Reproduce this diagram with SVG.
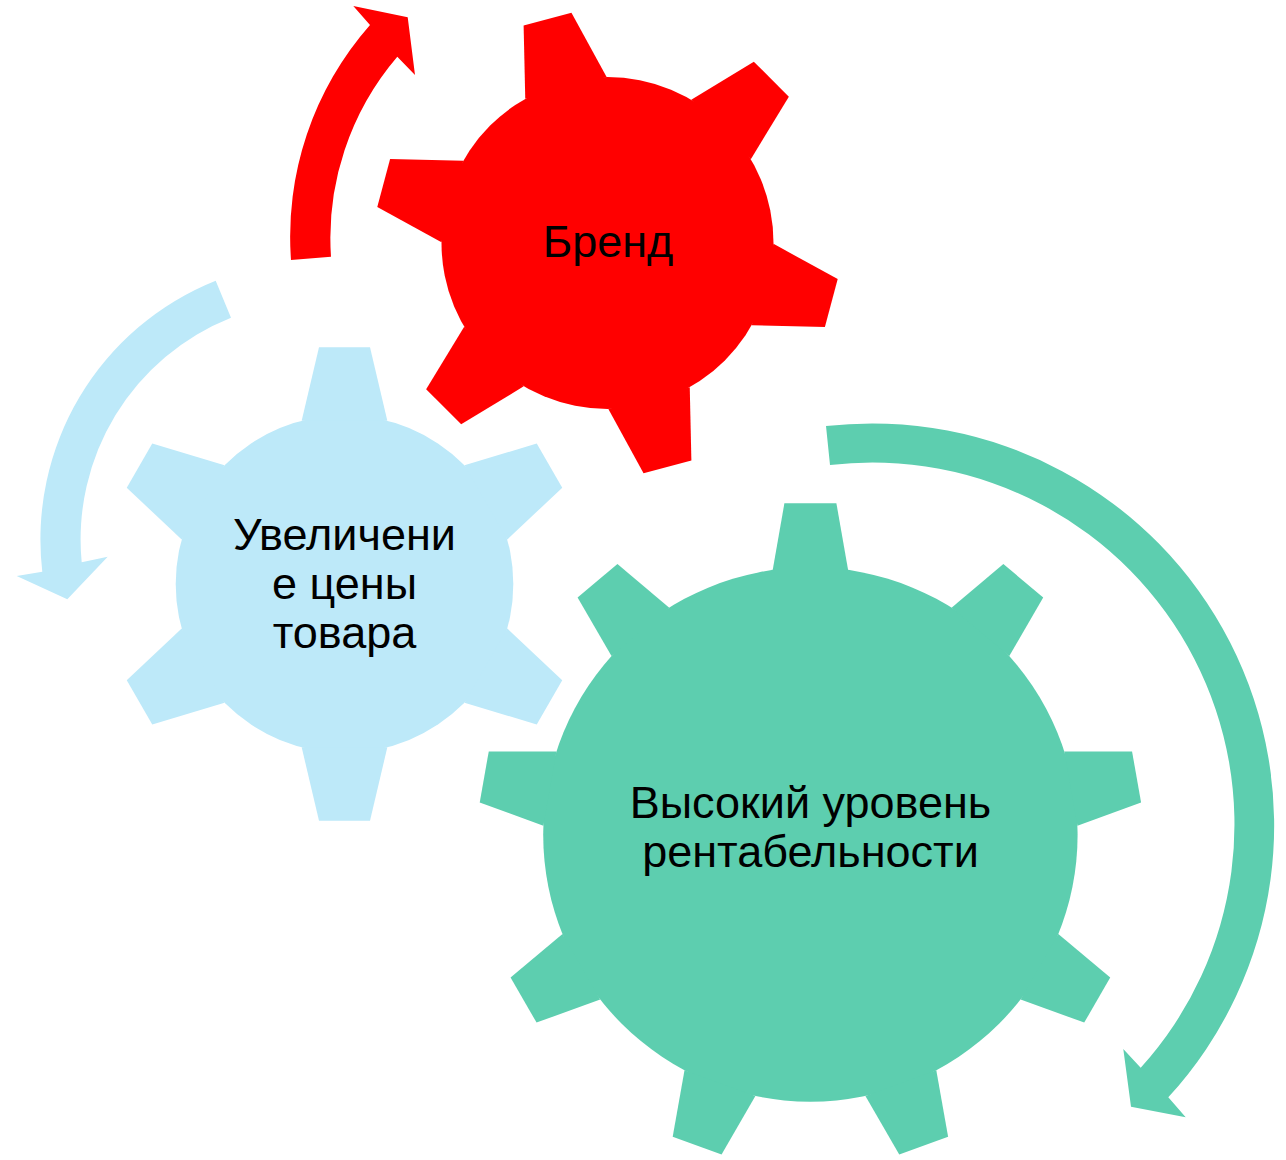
<svg xmlns="http://www.w3.org/2000/svg" width="1286" height="1160" viewBox="0 0 1286 1160">
<style>
.lbl{font-family:"Liberation Sans",Arial,sans-serif;font-size:45px;fill:#000000;text-anchor:middle}
.red{fill:#FF0000}
.blue{fill:#BDE9F9}
.green{fill:#5DCEAF}
</style>
<defs>
<polygon id="toothR" points="-42.12,-160.57 -24.76,-231.7 24.76,-231.7 42.12,-160.57"/>
<polygon id="toothB" points="-42.83,-163.28 -25.5,-236.7 25.5,-236.7 42.83,-163.28"/>
<polygon id="toothG" points="-37.7,-264.5 -26,-331.2 26,-331.2 37.7,-264.5"/>
</defs>
<rect width="1286" height="1160" fill="#FFFFFF"/>
<g id="node-price">
<g class="blue" transform="translate(344.5 584)">
<circle r="168.8"/>
<use href="#toothB"/>
<use href="#toothB" transform="rotate(60)"/>
<use href="#toothB" transform="rotate(120)"/>
<use href="#toothB" transform="rotate(180)"/>
<use href="#toothB" transform="rotate(240)"/>
<use href="#toothB" transform="rotate(300)"/>
</g>
<text class="lbl" x="344.5" y="550">Увеличени</text>
<text class="lbl" x="344.5" y="599">е цены</text>
<text class="lbl" x="344.5" y="648">товара</text>
</g>
<g id="node-brand">
<g class="red" transform="translate(607.5 243)">
<circle r="166"/>
<use href="#toothR" transform="rotate(-15)"/>
<use href="#toothR" transform="rotate(45)"/>
<use href="#toothR" transform="rotate(105)"/>
<use href="#toothR" transform="rotate(165)"/>
<use href="#toothR" transform="rotate(225)"/>
<use href="#toothR" transform="rotate(285)"/>
</g>
<text class="lbl" x="608" y="257">Бренд</text>
</g>
<g id="node-profit">
<g class="green" transform="translate(810.4 834.5)">
<circle r="267.2"/>
<use href="#toothG"/>
<use href="#toothG" transform="rotate(40)"/>
<use href="#toothG" transform="rotate(80)"/>
<use href="#toothG" transform="rotate(120)"/>
<use href="#toothG" transform="rotate(160)"/>
<use href="#toothG" transform="rotate(200)"/>
<use href="#toothG" transform="rotate(240)"/>
<use href="#toothG" transform="rotate(280)"/>
<use href="#toothG" transform="rotate(320)"/>
</g>
<text class="lbl" x="810.5" y="818">Высокий уровень</text>
<text class="lbl" x="810.5" y="867">рентабельности</text>
</g>
<g id="connectors">
<path class="red" d="M 291,260 A 320 320 0 0 1 370,25 L 353.3,6 L 407.7,17.3 L 415,75 L 397.3,56.7 A 279 279 0 0 0 331,256.7 Z"/>
<path class="blue" d="M 215.7,280.7 A 278.5 278.5 0 0 0 42.3,571.7 L 16.7,576 L 67.3,599.3 L 107.7,556.7 L 81.7,562.3 A 238.5 238.5 0 0 1 231,317.7 Z"/>
<path class="green" d="M 826,426.1 A 402 402 0 0 1 1168.3,1097.3 L 1185.7,1117.3 L 1131,1106.7 L 1123.3,1049 L 1140.7,1067.7 A 362 362 0 0 0 830,465.1 Z"/>
</g>
</svg>
